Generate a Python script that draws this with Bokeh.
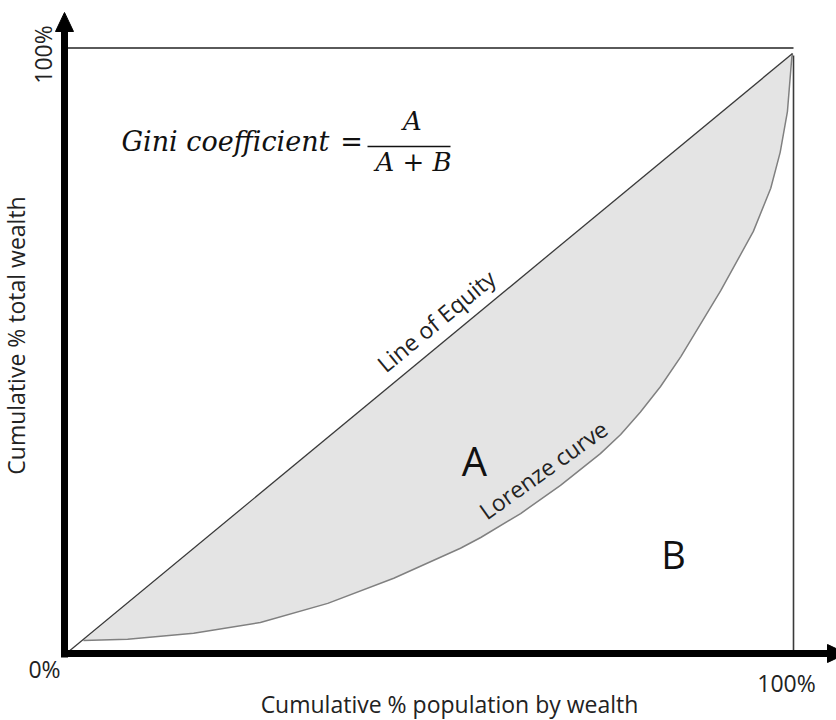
import math
from bokeh.plotting import figure
from bokeh.models import Range1d
from bokeh.core.properties import value
from bokeh.embed import file_html
from bokeh.resources import INLINE

# ---------------- data (percent) ----------------
equity_x = [0, 100]
equity_y = [0, 100]
lorenz_x = [2.2, 8.3, 17.4, 26.6, 35.9, 45.0, 54.2, 57.0, 62.5, 68.0, 73.5,
            76.3, 79.0, 81.8, 84.6, 90.1, 94.6, 97.0, 98.3, 99.3, 99.9, 100.0]
lorenz_y = [2.0, 2.2, 3.2, 5.0, 8.2, 12.4, 17.4, 19.2, 23.2, 27.9, 33.2,
            36.4, 40.1, 44.4, 49.4, 60.4, 70.3, 77.5, 83.5, 90.3, 99.3, 100.0]
x_tick_labels = ["0%", "100%"]
y_tick_label = "100%"
x_title = "Cumulative % population by wealth"
y_title = "Cumulative % total wealth"
formula_lhs = "Gini coefficient"
formula_num = "A"
formula_den = "A + B"
label_equity = "Line of Equity"
label_lorenz = "Lorenze curve"
label_a = "A"
label_b = "B"

# ---------------- layout (page pixels) ----------------
W, H = 836, 720
MX, MY = 0, 0
X0_PX, X100_PX = 67, 792
Y0_PX, Y100_PX = 652, 53
SX = (X100_PX - X0_PX) / 100.0
SY = (Y0_PX - Y100_PX) / 100.0
BASE_K = 0.43  # renderer's baseline shift, in em


def dx(px):
    return (px - X0_PX) / SX


def dy(py):
    return (Y0_PX - py) / SY


def anchor(px, py, fs, ang=0.0):
    """data anchor for a text whose baseline point is at page (px, py)"""
    ox = BASE_K * fs * math.sin(ang)
    oy = BASE_K * fs * math.cos(ang)
    return [dx(px - ox)], [dy(py - oy)]


p = figure(width=W, height=H,
           x_range=Range1d(dx(MX), dx(MX + W)),
           y_range=Range1d(dy(MY + H), dy(MY)),
           output_backend="svg", toolbar_location=None, min_border=0,
           x_axis_location=None, y_axis_location=None)
p.outline_line_color = None
p.background_fill_color = "white"
p.border_fill_color = "white"
p.grid.grid_line_color = None
p.grid.visible = False

SANS = value("Open Sans")
SERIF = value("DejaVu Serif")
TXT = "#222222"
INK = "#111111"

# shaded area between equity line and Lorenz curve
p.patch(lorenz_x, lorenz_y, fill_color="#e4e4e4", line_color=None)
p.line(lorenz_x, lorenz_y, line_color="#808080", line_width=1.5)
p.line(equity_x, equity_y, line_color="#3a3a3a", line_width=1.3)

# frame lines (top and right)
p.line([dx(66), dx(793)], [dy(47.5), dy(47.5)], line_color="#5a5a5a", line_width=2)
p.line([dx(793), dx(793)], [dy(653), dy(55)], line_color="#3a3a3a", line_width=1.6)

# thick axes with arrow heads
p.line([dx(64), dx(64)], [dy(657), dy(28)], line_color="black", line_width=7)
p.patch([dx(55), dx(64), dx(73)], [dy(31), dy(12), dy(31)],
        fill_color="black", line_color="black", line_width=1)
p.line([dx(60.5), dx(830)], [dy(653), dy(653)], line_color="black", line_width=7)
p.patch([dx(827), dx(846), dx(827)], [dy(644), dy(653), dy(662)],
        fill_color="black", line_color="black", line_width=1)

# tick labels
x, y = anchor(44, 678, 23)
p.text(x=x, y=y, text=[x_tick_labels[0]], text_font=SANS, text_font_size="23px",
       text_align="center", text_baseline="alphabetic", text_color=TXT)
x, y = anchor(786, 692, 23)
p.text(x=x, y=y, text=[x_tick_labels[1]], text_font=SANS, text_font_size="23px",
       text_align="center", text_baseline="alphabetic", text_color=TXT)
x, y = anchor(52, 54, 23, math.pi / 2)
p.text(x=x, y=y, text=[y_tick_label], angle=math.pi / 2, text_font=SANS,
       text_font_size="23px", text_align="center", text_baseline="alphabetic",
       text_color=TXT)

# axis titles
x, y = anchor(449, 713, 23)
p.text(x=x, y=y, text=[x_title], text_font=SANS, text_font_size="23px",
       text_align="center", text_baseline="alphabetic", text_color=TXT)
x, y = anchor(25, 335, 23, math.pi / 2)
p.text(x=x, y=y, text=[y_title], angle=math.pi / 2, text_font=SANS,
       text_font_size="23px", text_align="center", text_baseline="alphabetic",
       text_color=TXT)

# formula
x, y = anchor(121, 153, 27)
p.text(x=x, y=y, text=[formula_lhs], text_font=SERIF, text_font_style="italic",
       text_font_size="27px", text_align="left", text_baseline="alphabetic",
       text_color=INK)
x, y = anchor(351, 153, 27)
p.text(x=x, y=y, text=["="], text_font=SERIF, text_font_size="27px",
       text_align="center", text_baseline="alphabetic", text_color=INK)
p.line([dx(367), dx(450)], [dy(146), dy(146)], line_color=INK, line_width=1.5)
x, y = anchor(412, 132, 26)
p.text(x=x, y=y, text=[formula_num], text_font=SERIF, text_font_style="italic",
       text_font_size="26px", text_align="center", text_baseline="alphabetic",
       text_color=INK)
x, y = anchor(413, 173, 26)
p.text(x=x, y=y, text=[formula_den], text_font=SERIF, text_font_style="italic",
       text_font_size="26px", text_align="center", text_baseline="alphabetic",
       text_color=INK)

# curve labels
eq_angle = math.atan2(SY, SX)
x, y = anchor(386, 374, 23, eq_angle)
p.text(x=x, y=y, text=[label_equity], angle=eq_angle, text_font=SANS,
       text_font_size="23px", text_align="left", text_baseline="alphabetic",
       text_color=TXT)
lz_angle = math.radians(35.5)
x, y = anchor(487, 521, 23, lz_angle)
p.text(x=x, y=y, text=[label_lorenz], angle=lz_angle, text_font=SANS,
       text_font_size="23px", text_align="left", text_baseline="alphabetic",
       text_color=TXT)

# area labels
x, y = anchor(474, 477, 40)
p.text(x=x, y=y, text=[label_a], text_font=SANS, text_font_size="40px",
       text_align="center", text_baseline="alphabetic", text_color=INK)
x, y = anchor(673, 570, 38)
p.text(x=x, y=y, text=[label_b], text_font=SANS, text_font_size="38px",
       text_align="center", text_baseline="alphabetic", text_color=INK)

open("out.html", "w").write(file_html(p, INLINE))
